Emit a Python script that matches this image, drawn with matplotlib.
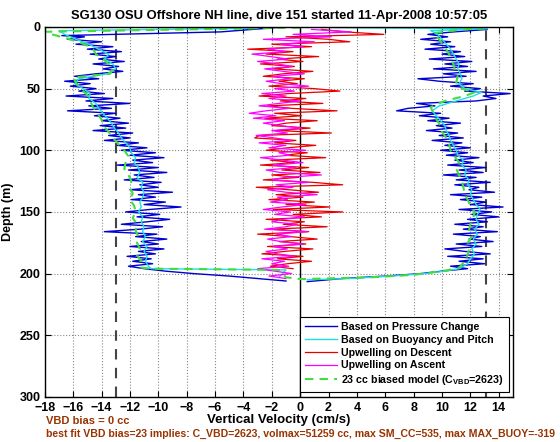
import numpy as np
import matplotlib
matplotlib.use('Agg')
import matplotlib.pyplot as plt

plt.rcParams['font.family'] = ['Liberation Sans', 'DejaVu Sans']
plt.rcParams['font.weight'] = 'bold'
plt.rcParams['mathtext.fontset'] = 'custom'
plt.rcParams['mathtext.rm'] = 'Liberation Sans:bold'
plt.rcParams['mathtext.bf'] = 'Liberation Sans:bold'

# Pressure-change velocity, descent (depth m, cm/s)
pc_down_depth = [0.3, 4, 7, 8, 10, 12, 14, 16, 18, 20, 22, 24, 26, 28, 30, 32, 34, 36, 38, 40,
                 42, 44, 46, 48, 50, 52, 54, 56, 58, 60, 62, 64, 66, 68, 70, 72, 74, 76, 78, 80,
                 82, 84, 86, 88, 90, 92, 94, 96, 98, 100, 102, 104, 106, 108, 110, 112, 114, 116, 118, 120,
                 122, 124, 126, 128, 130, 132, 134, 136, 138, 140, 142, 144, 146, 148, 150, 152, 154, 156, 158, 160,
                 162, 164, 166, 168, 170, 172, 174, 176, 178, 180, 182, 184, 186, 188, 190, 192, 194, 196,
                 198, 200, 202, 204, 206]
pc_down_vel = [-1.5, -5.6, -16.8, -15.2, -16.4, -14.0, -15.8, -13.2, -15.0, -12.6, -14.8, -13.0, -14.2, -12.4, -14.6, -12.8, -13.9, -12.5, -14.4, -15.9,
               -14.2, -16.6, -14.8, -16.2, -14.4, -15.6, -13.8, -16.5, -13.2, -15.1, -12.0, -14.9, -13.3, -16.4, -13.0, -14.5, -12.7, -14.0, -12.1, -14.1,
               -12.3, -14.6, -11.8, -13.5, -12.0, -13.8, -11.4, -12.9, -10.8, -12.6, -10.2, -12.0, -9.6, -11.8, -10.4, -12.9, -10.0, -12.1, -9.4, -11.7,
               -10.3, -12.4, -9.8, -11.3, -10.0, -12.0, -9.0, -11.4, -10.2, -11.9, -9.5, -11.0, -8.4, -10.6, -12.3, -9.9, -11.5, -9.2, -10.8, -12.6,
               -9.7, -11.3, -13.8, -10.1, -11.6, -9.4, -11.2, -10.0, -12.0, -9.6, -11.4, -10.2, -12.2, -10.5, -11.8, -10.4, -12.1, -11.0,
               -9.5, -7.5, -5.0, -3.0, -1.0]

# Pressure-change velocity, ascent
pc_up_depth = [206.5, 204, 202, 200, 198, 196, 194, 192, 190, 188, 186, 184, 182, 180, 178, 176, 174, 172, 170, 168,
               166, 164, 162, 160, 158, 156, 154, 152, 150, 148, 146, 144, 142, 140, 138, 136, 134, 132, 130, 128,
               126, 124, 122, 120, 118, 116, 114, 112, 110, 108, 106, 104, 102, 100, 98, 96, 94, 92, 90, 88,
               86, 84, 82, 80, 78, 76, 74, 72, 70, 68, 66, 64, 62, 60, 58, 56, 54, 52, 50, 48,
               46, 44, 42, 40, 38, 36, 34, 32, 30, 28, 26, 24, 22, 20, 18, 16, 14, 12, 10, 8,
               6, 4, 2, 0.5]
pc_up_vel = [0.5, 3.0, 6.0, 8.5, 10.0, 11.8, 10.6, 13.0, 11.2, 12.9, 10.4, 13.4, 11.6, 10.2, 12.8, 11.0, 13.6, 11.9, 12.7, 10.8,
             13.9, 11.5, 12.9, 10.9, 13.2, 11.8, 14.0, 12.1, 13.5, 11.2, 14.3, 12.0, 13.1, 11.3, 12.8, 10.6, 13.7, 11.9, 12.6, 10.9,
             13.4, 11.0, 12.4, 10.1, 12.9, 11.2, 13.1, 10.4, 12.2, 10.9, 12.6, 10.3, 11.8, 9.9, 12.0, 10.2, 11.4, 9.3, 11.5, 9.8,
             11.1, 8.9, 10.7, 9.6, 11.3, 9.0, 10.5, 8.4, 9.9, 6.8, 7.6, 9.5, 8.2, 12.4, 13.8, 12.9, 14.8, 11.6, 12.7, 10.6,
             12.2, 9.8, 8.3, 11.7, 10.1, 12.4, 9.4, 11.8, 10.2, 12.1, 9.1, 11.6, 10.0, 11.3, 8.8, 10.9, 9.2, 10.6, 8.5, 10.4,
             9.0, 10.8, 13.2, 10.0]

# Buoyancy and pitch velocity
bp_down_depth = [1, 3, 6, 10, 14, 18, 22, 26, 30, 34, 38, 42, 46, 50, 54, 58, 62, 66, 70, 74,
                 78, 82, 86, 90, 94, 98, 102, 106, 110, 114, 118, 122, 126, 130, 134, 138, 142, 146, 150, 154,
                 158, 162, 166, 170, 174, 178, 182, 186, 190, 194, 196, 197, 203]
bp_down_vel = [-3.0, -17.0, -16.6, -15.8, -14.9, -14.2, -13.5, -13.8, -13.2, -13.0, -13.6, -15.6, -15.9, -15.3, -14.8, -14.9, -14.4, -14.2, -13.9, -13.6,
               -13.3, -13.1, -12.8, -12.6, -12.3, -12.0, -11.9, -11.6, -11.7, -11.4, -11.3, -11.5, -11.1, -11.2, -11.0, -11.1, -11.3, -11.2, -11.4, -11.1,
               -11.2, -11.0, -11.1, -10.9, -11.1, -10.8, -11.0, -10.8, -10.9, -10.7, -10.5, -1.0, -1.5]
bp_up_depth = [205, 204, 202, 200, 198, 196, 192, 188, 184, 180, 176, 172, 168, 164, 160, 156, 152, 148, 144, 140,
               136, 132, 128, 124, 120, 116, 112, 108, 104, 100, 96, 92, 88, 84, 80, 76, 72, 68, 64, 60,
               56, 53, 50, 46, 42, 38, 34, 30, 26, 22, 18, 14, 10, 6, 3, 1.5, 0.3]
bp_up_vel = [0.5, 3.5, 6.5, 8.8, 10.2, 11.2, 11.8, 12.0, 12.3, 12.1, 12.4, 12.2, 12.5, 12.3, 12.6, 12.4, 12.5, 12.7, 12.4, 12.2,
             12.0, 12.1, 11.8, 11.9, 11.6, 11.7, 11.4, 11.5, 11.1, 11.0, 10.8, 10.6, 10.5, 10.3, 10.2, 9.9, 9.6, 9.3, 9.8, 11.0,
             12.2, 12.8, 11.6, 11.2, 11.4, 11.3, 11.1, 11.2, 11.0, 10.8, 10.6, 10.3, 10.0, 9.7, 9.2, 13.2, 0.0]

# Upwelling on descent
uw_down_depth = list(range(2, 198, 2))
uw_down_vel = [1.5, 3.2, 5.9, -1.0, 2.0, 3.5, -2.0, 0.8, -3.7, -0.5, -2.4, 1.3, -1.6, 0.2, -2.8, -0.4, -1.9, 0.9, -1.2, -2.6,
               0.3, -1.5, -0.2, -2.2, 1.0, 2.8, -0.8, -2.9, 0.4, -1.4, 1.6, -2.3, -0.6, 2.6, -1.8, 0.1, -2.5, 1.2, -1.0, -2.0,
               0.7, -1.6, 2.2, -2.9, -3.2, -0.3, -1.8, 1.1, -0.9, -2.4, 0.5, -1.1, 1.8, -2.1, -0.4, -2.8, 0.6, -1.3, 1.4, -2.0,
               -0.1, -2.6, 0.9, 3.0, -3.1, -0.8, 1.3, -1.7, 0.2, -2.2, 1.0, -1.0, 2.1, -1.9, 3.0, -0.5, 1.5, -2.4, 0.3, -1.2,
               1.9, -2.0, 0.6, -3.0, -0.7, 1.2, -1.5, 0.4, -2.3, 0.9, -1.1, -2.7, 0.2, -1.6, 0.8, -0.9, -2.1, -0.5]

# Upwelling on ascent
uw_up_depth = list(range(204, 0, -2))
uw_up_vel = [-1.0, -2.2, -0.6, -1.8, -3.0, -0.8, -2.0, -1.1, -2.7, -0.4, -1.6, -2.4, -0.9, -1.9, 0.2, -1.4, -2.3, -0.6, -1.7, 0.5,
             -2.5, -1.0, -0.2, -2.0, -1.2, 0.3, -1.8, -0.7, -2.6, -1.3, 0.4, -2.1, -0.9, -1.6, 1.2, -1.0, -2.3, -0.5, -1.7, 0.6,
             -2.0, -1.1, 1.5, -1.4, -2.4, -0.3, -1.9, 0.2, -1.2, -2.8, -0.7, -1.5, 0.4, -2.2, -1.0, -2.9, -0.6, -1.8, -3.1, -0.9,
             -2.0, 0.1, -1.4, -2.6, -1.1, -3.3, -1.7, -3.6, -2.4, -0.8, -2.9, -1.5, 0.0, -2.2, -1.0, -2.7, -0.4, -1.8, 0.6, -1.3,
             -2.4, -0.7, -1.9, 0.3, -1.2, -2.5, -0.6, -1.6, -3.0, -0.9, -2.1, -3.4, -1.0, -2.3, 0.2, -1.4, 1.0, -2.6, 2.2, -0.5,
             3.6, 0.8]

# 23 cc biased model
mod_depth = [0.5, 4, 6, 10, 14, 18, 22, 26, 30, 34, 38, 41, 45, 50, 55, 60, 65, 70, 75, 80,
             85, 90, 95, 100, 105, 110, 115, 120, 125, 130, 135, 140, 145, 150, 155, 160, 165, 170, 175, 180,
             185, 190, 195, 196, 197, 203,
             204.5, 203, 201, 198, 195.5, 190, 185, 180, 175, 170, 165, 160, 155, 150, 145, 140, 135, 130, 125, 120,
             115, 110, 105, 100, 95, 90, 85, 80, 75, 70, 65, 60, 56, 53, 50, 45, 40, 35, 30, 25,
             20, 15, 10, 5, 2, 1]
mod_vel = [0.0, -18.5, -17.5, -16.2, -15.2, -14.6, -14.4, -13.9, -13.5, -13.2, -13.4, -16.0, -15.8, -15.5, -15.0, -14.8, -14.6, -14.3, -14.0, -13.9,
           -13.5, -13.2, -12.8, -12.4, -12.1, -12.3, -12.4, -12.1, -11.9, -12.0, -11.8, -12.0, -11.7, -11.6, -11.8, -11.5, -11.6, -11.4, -11.5, -11.3,
           -11.5, -11.2, -11.3, -10.5, -1.5, -1.0,
           0.0, 5.0, 8.0, 10.0, 11.2, 11.6, 11.8, 11.9, 11.8, 12.1, 11.9, 12.0, 12.2, 12.3, 12.0, 11.8, 11.6, 11.5, 11.4, 11.2,
           11.0, 11.2, 10.9, 10.6, 10.5, 10.3, 10.0, 9.9, 9.6, 9.4, 9.2, 10.2, 11.6, 12.3, 11.4, 11.0, 11.1, 10.9, 10.8, 10.6,
           10.4, 10.1, 9.8, 9.4, 11.5, 13.0]

x_ticks = list(range(-18, 15, 2))
y_ticks = [0, 50, 100, 150, 200, 250, 300]

fig = plt.figure(figsize=(5.6, 4.42), dpi=100)
ax = fig.add_axes([0.080, 0.102, 0.836, 0.837])

blue = '#0000d0'
cyan = '#20e0e0'
red = '#e80000'
mag = '#ff00ff'
green = '#40dd40'

ax.plot(pc_down_vel, pc_down_depth, color=blue, lw=1.0, label='Based on Pressure Change')
ax.plot(pc_up_vel, pc_up_depth, color=blue, lw=1.0)
ax.plot(bp_down_vel, bp_down_depth, color=cyan, lw=1.0, label='Based on Buoyancy and Pitch')
ax.plot(bp_up_vel, bp_up_depth, color=cyan, lw=1.0)
ax.plot(uw_down_vel, uw_down_depth, color=red, lw=0.9, label='Upwelling on Descent')
ax.plot(uw_up_vel, uw_up_depth, color=mag, lw=0.9, label='Upwelling on Ascent')
ax.plot(mod_vel, mod_depth, color=green, lw=1.5, ls=(0, (4, 3)),
        label='23 cc biased model (C$_{\\rm VBD}$=2623)')

ax.axvline(0, color='k', lw=1.0, zorder=1)
ax.axvline(-13, color='#444444', lw=1.5, ls=(0, (5, 4)), zorder=1)
ax.axvline(13.1, color='#444444', lw=1.5, ls=(0, (5, 4)), zorder=1)

ax.set_xlim(-18, 15)
ax.set_ylim(300, 0)
ax.set_xticks(x_ticks)
ax.set_yticks(y_ticks)
ax.grid(True, color='#888888', ls=':', lw=0.8)
ax.set_axisbelow(True)
ax.tick_params(direction='in', top=True, right=True, labelsize=9, length=4)
ax.tick_params(axis='x', pad=4)
ax.tick_params(axis='y', pad=3)
for lab in ax.get_xticklabels() + ax.get_yticklabels():
    lab.set_fontweight('bold')
for sp in ax.spines.values():
    sp.set_linewidth(1.0)

ax.set_xlabel('Vertical Velocity (cm/s)', fontsize=9.5, fontweight='bold', labelpad=0)
ax.set_ylabel('Depth (m)', fontsize=9, fontweight='bold', labelpad=4)
ax.set_title('SG130 OSU Offshore NH line, dive 151 started 11-Apr-2008 10:57:05',
             fontsize=9.4, fontweight='bold', pad=6)

leg = ax.legend(loc='lower right', bbox_to_anchor=(0.991, 0.014), borderaxespad=0,
                prop={'weight': 'bold', 'size': 7.7}, handlelength=3.0,
                fancybox=False, framealpha=1, edgecolor='k', labelspacing=0.25,
                borderpad=0.45, handletextpad=0.4)
leg.get_frame().set_linewidth(0.8)

fig.text(0.082, 0.040, 'VBD bias = 0 cc', color='#993300', fontsize=8.0, fontweight='bold')
fig.text(0.082, 0.012, 'best fit VBD bias=23 implies: C_VBD=2623, volmax=51259 cc, max SM_CC=535, max MAX_BUOY=-319',
         color='#993300', fontsize=7.55, fontweight='bold')

fig.savefig('out.png', dpi=100)
